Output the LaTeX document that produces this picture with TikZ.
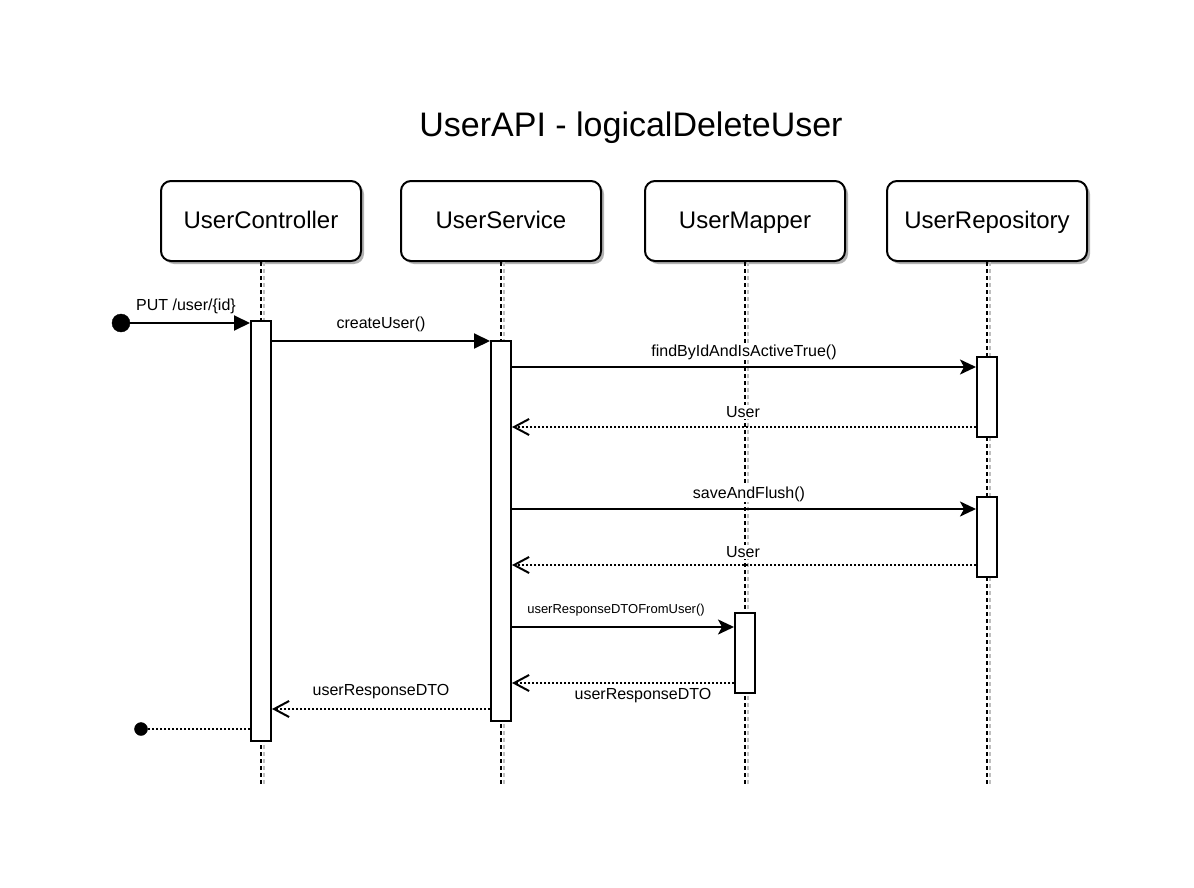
\documentclass[tikz,border=0pt]{standalone}
\usepackage{fontspec}
\setmainfont{Liberation Sans}
\usetikzlibrary{arrows.meta,shadows}

\begin{document}
\begin{tikzpicture}[x=1pt,y=-1pt,
  head/.style={draw, line width=2pt, rounded corners=10pt, fill=white,
    minimum width=200pt, minimum height=80pt, inner sep=0pt,
    text height=17pt, text depth=2pt,
    font=\fontsize{24}{28}\selectfont,
    drop shadow={shadow xshift=3pt, shadow yshift=-3pt, fill=black!30, opacity=1}},
  act/.style={draw, line width=2pt, fill=white, minimum width=20pt, inner sep=0pt},
  life/.style={line width=2pt, dash pattern=on 4pt off 3pt},
  lifeshadow/.style={line width=2pt, dash pattern=on 4pt off 3pt, black!25},
  first/.style={line width=2pt, -{Triangle[length=16pt,width=15pt]}},
  call/.style={line width=2pt, -{Stealth[length=16pt,width=15pt,inset=4pt]}},
  ret/.style={line width=2pt, dash pattern=on 2pt off 2pt,
    -{Straight Barb[length=15pt,width=16pt]}},
  endret/.style={line width=2pt, dash pattern=on 2pt off 2pt},
  msg/.style={font=\fontsize{16}{19}\selectfont, fill=white, inner sep=1pt},
  smallmsg/.style={font=\fontsize{13}{16}\selectfont, fill=white, inner sep=1pt},
  dot/.style={circle, fill=black, draw=black, inner sep=0pt}
]
\useasboundingbox (0,0) rectangle (1194,888);

% title
\node[font=\fontsize{34}{40}\selectfont] (title) at (631,128) {UserAPI - logicalDeleteUser};

% lifeline bottom level
\coordinate (bottom) at (0,786);

% participants
\node[head] (ctl) at (261,221) {UserController};
\node[head] (svc) at (501,221) {UserService};
\node[head] (map) at (745,221) {UserMapper};
\node[head] (rep) at (987,221) {UserRepository};

% lifelines with their grey shadows
\foreach \p in {ctl,svc,map,rep}{
  \draw[lifeshadow] ([xshift=3pt]\p.south) -- ([xshift=3pt]\p.south |- bottom);
  \draw[life] (\p.south) -- (\p.south |- bottom);
}

% activation bars
\node[act, minimum height=420pt] (ctlA) at (261,531) {};
\node[act, minimum height=380pt] (svcA) at (501,531) {};
\node[act, minimum height=80pt] (repA) at (987,397) {};
\node[act, minimum height=80pt] (repB) at (987,537) {};
\node[act, minimum height=80pt] (mapA) at (745,653) {};

% message levels
\coordinate (m0) at (0,323);
\coordinate (m1) at (0,341);
\coordinate (m2) at (0,367);
\coordinate (m3) at (0,427);
\coordinate (m4) at (0,509);
\coordinate (m5) at (0,565);
\coordinate (m6) at (0,627);
\coordinate (m7) at (0,683);
\coordinate (m8) at (0,709);

% entry and exit points
\node[dot, minimum size=18pt] (start) at (121,323) {};
\node[dot, minimum size=13pt] (finish) at (141,729) {};

% messages
\draw[first] (start.center) -- (ctlA.west |- m0);
\node[msg] (l0) at (186,306) {PUT /user/\{id\}};

\draw[first] (ctlA.east |- m1) -- (svcA.west |- m1);
\node[msg] (l1) at (381,324) {createUser()};

\draw[call] (svcA.east |- m2) -- (repA.west |- m2);
\node[msg] (l2) at (744,352) {findByIdAndIsActiveTrue()};

\draw[ret] (repA.west |- m3) -- (svcA.east |- m3);
\node[msg] (l3) at (743,412) {User};

\draw[call] (svcA.east |- m4) -- (repB.west |- m4);
\node[msg] (l4) at (749,494) {saveAndFlush()};

\draw[ret] (repB.west |- m5) -- (svcA.east |- m5);
\node[msg] (l5) at (743,552) {User};

\draw[call] (svcA.east |- m6) -- (mapA.west |- m6);
\node[smallmsg] (l6) at (616,610) {userResponseDTOFromUser()};

\draw[ret] (mapA.west |- m7) -- (svcA.east |- m7);
\node[msg] (l7) at (643,696) {userResponseDTO};

\draw[ret] (svcA.west |- m8) -- (ctlA.east |- m8);
\node[msg] (l8) at (381,692) {userResponseDTO};

\draw[endret] (ctlA.west |- finish) -- (finish.center);
\end{tikzpicture}
\end{document}
